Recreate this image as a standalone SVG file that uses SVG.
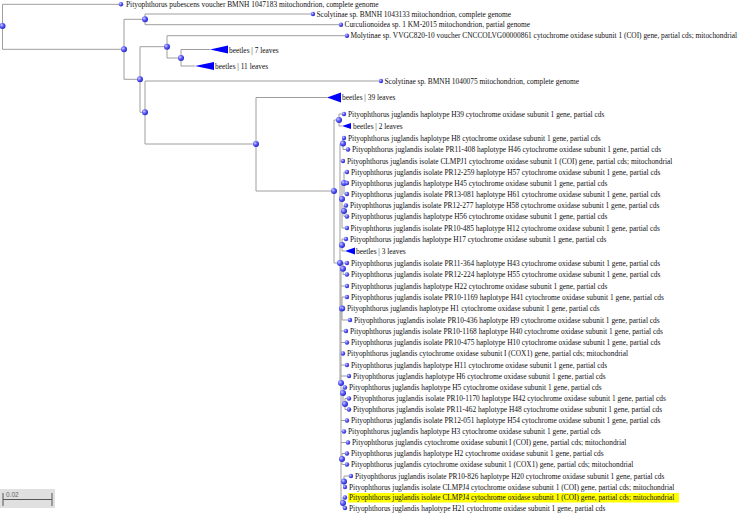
<svg xmlns="http://www.w3.org/2000/svg" width="742" height="515" viewBox="0 0 742 515">
<style>
.t{font-family:"Liberation Serif","Times New Roman",serif;font-size:7.4px;fill:#111}
.e{fill:none;stroke:#9e9e9e;stroke-width:1}
.n{fill:url(#g)}
.tri{fill:#0000ff}
</style>
<defs>
<radialGradient id="g" cx="0.35" cy="0.35" r="0.7">
<stop offset="0" stop-color="#d0d0ff"/>
<stop offset="0.45" stop-color="#6060ff"/>
<stop offset="1" stop-color="#2020c0"/>
</radialGradient>
</defs>
<rect width="742" height="515" fill="#fff"/>
<g id="connectors" class="e">
<path d="M2.5 4.3V49.3M2.5 4.3H121M2.5 49.3H124
M124 19.3V79.3M124 19.3H145M124 79.3H140
M145 14V24.7M145 14H313M145 24.7H341
M140 46.7V112.3M140 46.7H167M140 112.3H145
M167 35.7V58M167 35.7H347M167 58H181
M181 49.5V66M181 49.5H210M181 66H195
M145 81V144M145 81H381M145 144H256
M256 97.5V191M256 97.5H327M256 191H334
M334 120V263M334 120H339M334 263H340
M339 114V126M339 114H344M339 126H342
M340 143.5V383M340 143.5H343M340 161H343M340 199H342M340 245H342M340 383H341
M343 138V149.5M343 138H344M343 149.5H348
M342 183V228M342 183H344M342 211H344M342 228H347
M344 172V194M344 172H347M344 183H347M344 194H347
M344 205.5V216.5M344 205.5H346M344 216.5H347
M342 239V251M342 239H346M342 251H345
M341 268.75V503M341 268.75H343M341 286H347M341 308.5H342M341 331H346M341 342.5H347M341 353.5H343M341 365H347M341 376H349M341 393H343M341 420.5H347M341 431.5H344M341 442.5H348M341 459H342M341 481.5H344M341 503H343
M343 263V274.5M343 263H347M343 274.5H347
M342 297V320M342 297H347M342 308.5H343M342 320H350
M343 387.5V404M343 387.5H345M343 404H345
M345 398.5V409.5M345 398.5H349M345 409.5H349
M342 453.5V464.5M342 453.5H347M342 464.5H347
M344 476V487M344 476H351M344 487H345
M343 497.5V508M343 497.5H345M343 508H345"/>
</g>
<g id="internal-nodes">
<circle id="n-root" class="n" cx="2.5" cy="26" r="3"/>
<circle id="n1" class="n" cx="124" cy="49.3" r="3"/>
<circle id="n2" class="n" cx="145" cy="19.3" r="3"/>
<circle id="n3" class="n" cx="140" cy="79.3" r="3"/>
<circle id="n4" class="n" cx="167" cy="46.7" r="3"/>
<circle id="n7" class="n" cx="181" cy="58" r="3"/>
<circle id="n5" class="n" cx="145" cy="112.3" r="3"/>
<circle id="n6" class="n" cx="256" cy="144" r="3"/>
<circle id="n8" class="n" cx="334" cy="191" r="3"/>
<circle id="n9" class="n" cx="339" cy="120" r="3"/>
<circle id="n10" class="n" cx="340" cy="263" r="3"/>
<circle id="nP" class="n" cx="343" cy="143.5" r="3"/>
<circle id="nR" class="n" cx="342" cy="199" r="3"/>
<circle id="nR1" class="n" cx="344" cy="183" r="3"/>
<circle id="nR2" class="n" cx="344" cy="211" r="3"/>
<circle id="nS" class="n" cx="342" cy="245" r="3"/>
<circle id="nQ" class="n" cx="341" cy="383" r="3"/>
<circle id="nU" class="n" cx="343" cy="268.75" r="3"/>
<circle id="nW" class="n" cx="342" cy="308.5" r="3"/>
<circle id="nY" class="n" cx="343" cy="393" r="3"/>
<circle id="nY2" class="n" cx="345" cy="404" r="3"/>
<circle id="nAA" class="n" cx="342" cy="459" r="3"/>
<circle id="nBB" class="n" cx="344" cy="481.5" r="3"/>
<circle id="nCC" class="n" cx="343" cy="503" r="3"/>
</g>
<g id="leaf-pubescens"><circle class="n" cx="121" cy="4.3" r="2.2"/><text class="t" x="126" y="6.9">Pityophthorus pubescens voucher BMNH 1047183 mitochondrion, complete genome</text></g>
<g id="leaf-scol1043133"><circle class="n" cx="313" cy="14" r="2.2"/><text class="t" x="316.5" y="16.6">Scolytinae sp. BMNH 1043133 mitochondrion, complete genome</text></g>
<g id="leaf-curc"><circle class="n" cx="341" cy="24.7" r="2.2"/><text class="t" x="344.5" y="27.3">Curculionoidea sp. 1 KM-2015 mitochondrion, partial genome</text></g>
<g id="leaf-molyt"><circle class="n" cx="347" cy="35.7" r="2.2"/><text class="t" x="350.5" y="38.3">Molytinae sp. VVGC820-10 voucher CNCCOLVG00000861 cytochrome oxidase subunit 1 (COI) gene, partial cds; mitochondrial</text></g>
<g id="clade-b7"><polygon class="tri" points="210,49.5 228,45.5 228,53.5"/><text class="t" x="229" y="53">beetles | 7 leaves</text></g>
<g id="clade-b11"><polygon class="tri" points="195,66 214,62 214,70"/><text class="t" x="215" y="68.8">beetles | 11 leaves</text></g>
<g id="leaf-scol1040075"><circle class="n" cx="381" cy="81" r="2.2"/><text class="t" x="384.5" y="83.6">Scolytinae sp. BMNH 1040075 mitochondrion, complete genome</text></g>
<g id="clade-b39"><polygon class="tri" points="327,97.5 341,92.5 341,102.5"/><text class="t" x="342" y="100.3">beetles | 39 leaves</text></g>
<g id="leaf-H39"><circle class="n" cx="344" cy="114" r="2.2"/><text class="t" x="348" y="116.6">Pityophthorus juglandis haplotype H39 cytochrome oxidase subunit 1 gene, partial cds</text></g>
<g id="clade-b2"><polygon class="tri" points="342,126 351,123 351,129"/><text class="t" x="353" y="128.8">beetles | 2 leaves</text></g>
<g id="leaf-H8"><circle class="n" cx="344" cy="138" r="2.2"/><text class="t" x="348" y="140.6">Pityophthorus juglandis haplotype H8 cytochrome oxidase subunit 1 gene, partial cds</text></g>
<g id="leaf-H46"><circle class="n" cx="348" cy="149.5" r="2.2"/><text class="t" x="352" y="152.1">Pityophthorus juglandis isolate PR11-408 haplotype H46 cytochrome oxidase subunit 1 gene, partial cds</text></g>
<g id="leaf-CLMPJ1"><circle class="n" cx="343" cy="161" r="2.2"/><text class="t" x="347" y="163.6">Pityophthorus juglandis isolate CLMPJ1 cytochrome oxidase subunit 1 (COI) gene, partial cds; mitochondrial</text></g>
<g id="leaf-H57"><circle class="n" cx="347" cy="172" r="2.2"/><text class="t" x="351" y="174.6">Pityophthorus juglandis isolate PR12-259 haplotype H57 cytochrome oxidase subunit 1 gene, partial cds</text></g>
<g id="leaf-H45"><circle class="n" cx="347" cy="183" r="2.2"/><text class="t" x="351" y="185.6">Pityophthorus juglandis haplotype H45 cytochrome oxidase subunit 1 gene, partial cds</text></g>
<g id="leaf-H61"><circle class="n" cx="347" cy="194" r="2.2"/><text class="t" x="351" y="196.6">Pityophthorus juglandis isolate PR13-081 haplotype H61 cytochrome oxidase subunit 1 gene, partial cds</text></g>
<g id="leaf-H58"><circle class="n" cx="346" cy="205.5" r="2.2"/><text class="t" x="350" y="208.1">Pityophthorus juglandis isolate PR12-277 haplotype H58 cytochrome oxidase subunit 1 gene, partial cds</text></g>
<g id="leaf-H56"><circle class="n" cx="347" cy="216.5" r="2.2"/><text class="t" x="351" y="219.1">Pityophthorus juglandis haplotype H56 cytochrome oxidase subunit 1 gene, partial cds</text></g>
<g id="leaf-H12"><circle class="n" cx="347" cy="228" r="2.2"/><text class="t" x="350.5" y="230.6">Pityophthorus juglandis isolate PR10-485 haplotype H12 cytochrome oxidase subunit 1 gene, partial cds</text></g>
<g id="leaf-H17"><circle class="n" cx="346" cy="239" r="2.2"/><text class="t" x="350" y="241.6">Pityophthorus juglandis haplotype H17 cytochrome oxidase subunit 1 gene, partial cds</text></g>
<g id="clade-b3"><polygon class="tri" points="345,251 355,247.5 355,254.5"/><text class="t" x="356" y="253.8">beetles | 3 leaves</text></g>
<g id="leaf-H43"><circle class="n" cx="347" cy="263" r="2.2"/><text class="t" x="351" y="265.6">Pityophthorus juglandis isolate PR11-364 haplotype H43 cytochrome oxidase subunit 1 gene, partial cds</text></g>
<g id="leaf-H55"><circle class="n" cx="347" cy="274.5" r="2.2"/><text class="t" x="351" y="277.1">Pityophthorus juglandis isolate PR12-224 haplotype H55 cytochrome oxidase subunit 1 gene, partial cds</text></g>
<g id="leaf-H22"><circle class="n" cx="347" cy="286" r="2.2"/><text class="t" x="351" y="288.6">Pityophthorus juglandis haplotype H22 cytochrome oxidase subunit 1 gene, partial cds</text></g>
<g id="leaf-H41"><circle class="n" cx="347" cy="297" r="2.2"/><text class="t" x="351" y="299.6">Pityophthorus juglandis isolate PR10-1169 haplotype H41 cytochrome oxidase subunit 1 gene, partial cds</text></g>
<g id="leaf-H1"><circle class="n" cx="343" cy="308.5" r="2.2"/><text class="t" x="347" y="311.1">Pityophthorus juglandis haplotype H1 cytochrome oxidase subunit 1 gene, partial cds</text></g>
<g id="leaf-H9"><circle class="n" cx="350" cy="320" r="2.2"/><text class="t" x="354" y="322.6">Pityophthorus juglandis isolate PR10-436 haplotype H9 cytochrome oxidase subunit 1 gene, partial cds</text></g>
<g id="leaf-H40"><circle class="n" cx="346" cy="331" r="2.2"/><text class="t" x="350" y="333.6">Pityophthorus juglandis isolate PR10-1168 haplotype H40 cytochrome oxidase subunit 1 gene, partial cds</text></g>
<g id="leaf-H10"><circle class="n" cx="347" cy="342.5" r="2.2"/><text class="t" x="351" y="345.1">Pityophthorus juglandis isolate PR10-475 haplotype H10 cytochrome oxidase subunit 1 gene, partial cds</text></g>
<g id="leaf-COX1a"><circle class="n" cx="343" cy="353.5" r="2.2"/><text class="t" x="347" y="356.1">Pityophthorus juglandis cytochrome oxidase subunit I (COX1) gene, partial cds; mitochondrial</text></g>
<g id="leaf-H11"><circle class="n" cx="347" cy="365" r="2.2"/><text class="t" x="351" y="367.6">Pityophthorus juglandis haplotype H11 cytochrome oxidase subunit 1 gene, partial cds</text></g>
<g id="leaf-H6"><circle class="n" cx="349" cy="376" r="2.2"/><text class="t" x="353" y="378.6">Pityophthorus juglandis haplotype H6 cytochrome oxidase subunit 1 gene, partial cds</text></g>
<g id="leaf-H5"><circle class="n" cx="345" cy="387.5" r="2.2"/><text class="t" x="349" y="390.1">Pityophthorus juglandis haplotype H5 cytochrome oxidase subunit 1 gene, partial cds</text></g>
<g id="leaf-H42"><circle class="n" cx="349" cy="398.5" r="2.2"/><text class="t" x="353" y="401.1">Pityophthorus juglandis isolate PR10-1170 haplotype H42 cytochrome oxidase subunit 1 gene, partial cds</text></g>
<g id="leaf-H48"><circle class="n" cx="349" cy="409.5" r="2.2"/><text class="t" x="353" y="412.1">Pityophthorus juglandis isolate PR11-462 haplotype H48 cytochrome oxidase subunit 1 gene, partial cds</text></g>
<g id="leaf-H54"><circle class="n" cx="347" cy="420.5" r="2.2"/><text class="t" x="351" y="423.1">Pityophthorus juglandis isolate PR12-051 haplotype H54 cytochrome oxidase subunit 1 gene, partial cds</text></g>
<g id="leaf-H3"><circle class="n" cx="344" cy="431.5" r="2.2"/><text class="t" x="348" y="434.1">Pityophthorus juglandis haplotype H3 cytochrome oxidase subunit 1 gene, partial cds</text></g>
<g id="leaf-COI"><circle class="n" cx="348" cy="442.5" r="2.2"/><text class="t" x="352" y="445.1">Pityophthorus juglandis cytochrome oxidase subunit I (COI) gene, partial cds; mitochondrial</text></g>
<g id="leaf-H2"><circle class="n" cx="347" cy="453.5" r="2.2"/><text class="t" x="351" y="456.1">Pityophthorus juglandis haplotype H2 cytochrome oxidase subunit 1 gene, partial cds</text></g>
<g id="leaf-COX1b"><circle class="n" cx="347" cy="464.5" r="2.2"/><text class="t" x="351" y="467.1">Pityophthorus juglandis cytochrome oxidase subunit 1 (COX1) gene, partial cds; mitochondrial</text></g>
<g id="leaf-H20"><circle class="n" cx="351" cy="476" r="2.2"/><text class="t" x="355" y="478.6">Pityophthorus juglandis isolate PR10-826 haplotype H20 cytochrome oxidase subunit 1 gene, partial cds</text></g>
<g id="leaf-CLMPJ4a"><circle class="n" cx="345" cy="487" r="2.2"/><text class="t" x="349" y="489.6">Pityophthorus juglandis isolate CLMPJ4 cytochrome oxidase subunit 1 (COI) gene, partial cds; mitochondrial</text></g>
<g id="leaf-CLMPJ4b"><rect x="348" y="493" width="331" height="9.5" fill="#ffff00"/><circle class="n" cx="345" cy="497.5" r="2.2"/><text class="t" x="349" y="500.1">Pityophthorus juglandis isolate CLMPJ4 cytochrome oxidase subunit 1 (COI) gene, partial cds; mitochondrial</text></g>
<g id="leaf-H21"><circle class="n" cx="345" cy="508" r="2.2"/><text class="t" x="349" y="510.6">Pityophthorus juglandis haplotype H21 cytochrome oxidase subunit 1 gene, partial cds</text></g>
<g id="scale-bar">
<rect x="0" y="489" width="55" height="19" fill="#e0e0e0"/>
<path d="M3 493V506M52 493V506M3 499.5H52" fill="none" stroke="#555" stroke-width="1"/>
<text x="6" y="496.5" style="font-family:'Liberation Sans',Arial,sans-serif;font-size:6.5px;fill:#666">0.02</text>
</g>
</svg>
